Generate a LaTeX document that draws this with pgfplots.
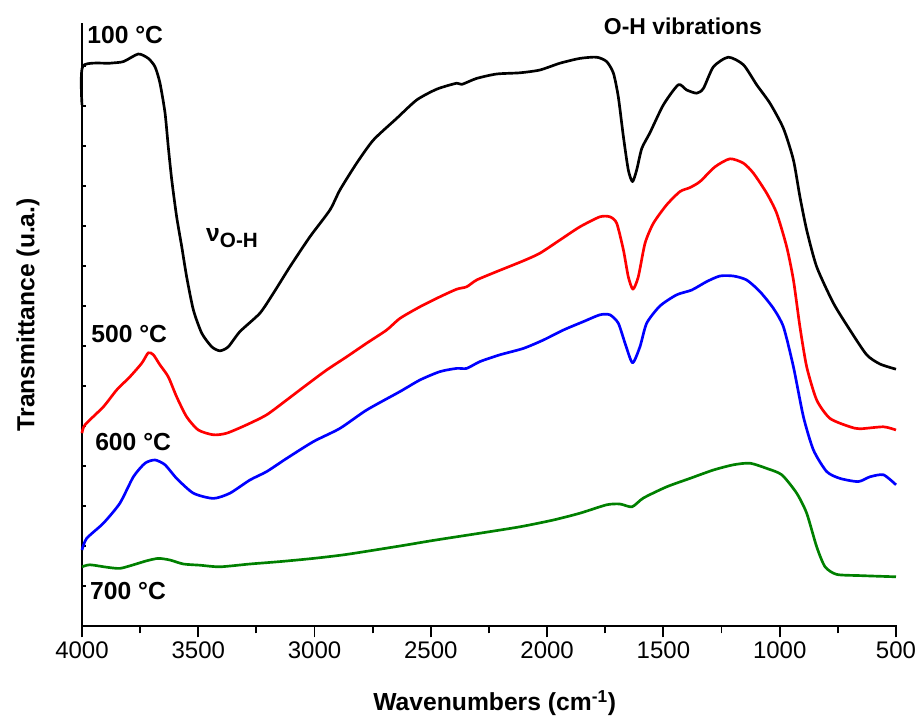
\documentclass[border=0pt]{standalone}
\usepackage{pgfplots}
\pgfplotsset{compat=1.18}
\usepackage{fontspec}
\setmainfont{Liberation Sans}
\definecolor{cgreen}{RGB}{0,128,0}
\begin{document}
\begin{tikzpicture}
\useasboundingbox (-61.5pt,-69pt) rectangle (626.25pt,469.5pt);
\begin{axis}[
  at={(0pt,0pt)}, anchor=south west,
  scale only axis, width=610.5pt, height=451.5pt,
  xmin=500, xmax=4000, x dir=reverse,
  ymin=0, ymax=15.05,
  axis lines*=left,
  axis line style={line width=1.6pt, line cap=rect},
  clip=false,
  tick align=outside,
  major tick length=8.5pt,
  minor tick length=5.6pt,
  every tick/.style={black, line width=1.4pt},
  xtick={500,1000,...,4000},
  minor x tick num=1,
  ytick=\empty,
  extra y ticks={1,2,...,14},
  extra y tick labels={},
  extra tick style={tick align=inside, major tick length=2.8pt},
  /pgf/number format/assume math mode=true,
  /pgf/number format/1000 sep={},
  xticklabel style={font=\fontsize{18}{21}\selectfont},
  xlabel={\textbf{Wavenumbers (cm\textsuperscript{-1})}},
  ylabel={\textbf{Transmittance (u.a.)}},
  xlabel style={at={(axis description cs:0.507,-0.128)}, anchor=center, font=\fontsize{18.5}{22}\selectfont},
  ylabel style={at={(axis description cs:-0.0663,0.517)}, anchor=center, font=\fontsize{18.5}{22}\selectfont},
  every axis plot/.append style={line width=2pt, line join=round, smooth, tension=0.4},
]
% 100 C
\addplot[black] coordinates {
(4000,13.03) (3996,14.0) (3880,14.07) (3822,14.11) (3758,14.3) (3715,14.19) (3686,13.98)
(3665,13.58) (3643,12.83) (3629,11.98) (3614,11.15) (3593,10.23) (3571,9.48) (3550,8.73)
(3521,7.9) (3485,7.32) (3442,6.98) (3407,6.88) (3371,6.98) (3321,7.36) (3235,7.82)
(3177,8.32) (3106,8.98) (3020,9.73) (2934,10.4) (2891,10.9) (2819,11.57) (2747,12.15)
(2647,12.69) (2561,13.15) (2475,13.42) (2389,13.57) (2367,13.54) (2303,13.69) (2217,13.8)
(2117,13.83) (2031,13.9) (1945,14.07) (1859,14.19) (1787,14.22) (1744,14.11) (1715,13.82)
(1694,13.23) (1672,12.23) (1651,11.4) (1633,11.11) (1615,11.4) (1593,11.94) (1558,12.33)
(1500,13.03) (1436,13.53) (1400,13.4) (1357,13.32) (1328,13.44) (1285,13.98) (1221,14.22)
(1156,14.03) (1099,13.53) (1042,13.07) (984,12.44) (941,11.65) (913,10.73) (884,9.9)
(841,8.98) (769,8.07) (698,7.4) (626,6.78) (569,6.55) (500,6.42)
};
% 500 C
\addplot[red] coordinates {
(4000,4.82) (3987,5.03) (3908,5.48) (3851,5.9) (3794,6.23) (3743,6.57) (3715,6.83)
(3693,6.78) (3665,6.53) (3629,6.23) (3593,5.73) (3550,5.23) (3500,4.9) (3435,4.78)
(3378,4.82) (3292,5.03) (3206,5.28) (3120,5.65) (3034,6.03) (2948,6.4) (2862,6.73)
(2776,7.07) (2690,7.4) (2633,7.69) (2547,7.98) (2461,8.23) (2389,8.42) (2346,8.48)
(2303,8.65) (2217,8.86) (2102,9.13) (2031,9.32) (1945,9.65) (1859,9.98) (1773,10.23)
(1730,10.23) (1701,10.07) (1672,9.4) (1651,8.73) (1631,8.42) (1608,8.73) (1579,9.57)
(1543,10.07) (1486,10.53) (1429,10.86) (1386,10.96) (1343,11.11) (1278,11.48) (1214,11.68)
(1156,11.57) (1113,11.32) (1056,10.82) (1013,10.32) (970,9.48) (941,8.65) (913,7.48)
(884,6.48) (841,5.65) (784,5.19) (698,4.98) (655,4.93) (554,4.98) (500,4.9)
};
% 600 C
\addplot[blue] coordinates {
(4000,1.9) (3980,2.19) (3908,2.57) (3837,3.07) (3779,3.73) (3729,4.07) (3686,4.15)
(3643,4.03) (3593,3.69) (3521,3.32) (3435,3.19) (3364,3.32) (3278,3.65) (3206,3.86)
(3120,4.19) (3005,4.61) (2891,4.94) (2776,5.4) (2633,5.86) (2547,6.15) (2461,6.36)
(2389,6.44) (2346,6.44) (2289,6.61) (2203,6.78) (2102,6.94) (2016,7.15) (1930,7.4)
(1844,7.61) (1773,7.78) (1730,7.78) (1694,7.57) (1665,7.07) (1633,6.58) (1601,6.98)
(1572,7.57) (1515,8.0) (1443,8.28) (1378,8.4) (1314,8.61) (1257,8.75) (1199,8.75)
(1142,8.65) (1085,8.36) (1027,7.94) (984,7.48) (941,6.48) (898,5.23) (855,4.4)
(798,3.86) (741,3.69) (662,3.61) (612,3.73) (554,3.78) (500,3.53)
};
% 700 C
\addplot[cgreen] coordinates {
(4000,1.48) (3966,1.53) (3894,1.47) (3837,1.44) (3779,1.53) (3722,1.63) (3672,1.69)
(3622,1.65) (3564,1.55) (3493,1.52) (3407,1.48) (3278,1.55) (3149,1.61) (3005,1.69)
(2862,1.79) (2633,2.0) (2489,2.14) (2289,2.32) (2117,2.48) (1973,2.65) (1859,2.82)
(1744,3.03) (1687,3.05) (1635,2.98) (1586,3.2) (1486,3.48) (1386,3.69) (1285,3.9)
(1199,4.03) (1128,4.07) (1056,3.94) (991,3.78) (927,3.32) (884,2.82) (841,1.98)
(805,1.48) (755,1.29) (655,1.26) (500,1.23)
};
\begin{scope}[font=\fontsize{18.5}{22}\selectfont\bfseries]
\node[anchor=west, inner sep=0pt] at (axis cs:3978,14.78) {100 °C};
\node[anchor=west, inner sep=0pt] at (axis cs:3961,7.3) {500 °C};
\node[anchor=west, inner sep=0pt] at (axis cs:3944,4.6) {600 °C};
\node[anchor=west, inner sep=0pt] at (axis cs:3966,0.875) {700 °C};
\node[anchor=center, inner sep=0pt, font=\fontsize{17.2}{20}\selectfont\bfseries] at (axis cs:1416,15.0) {O-H vibrations};
\node[anchor=west, inner sep=0pt] at (axis cs:3467,9.7) {ν\raisebox{-0.45ex}{\fontsize{15.5}{17}\selectfont O-H}};
\end{scope}
\end{axis}
\end{tikzpicture}
\end{document}
